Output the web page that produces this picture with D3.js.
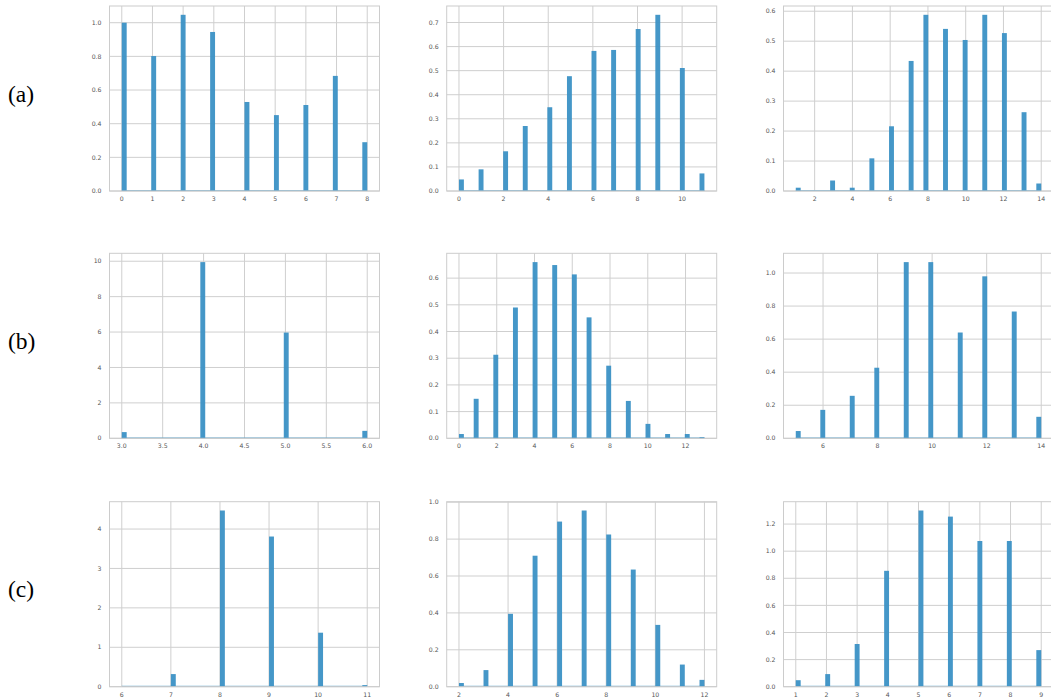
<!DOCTYPE html>
<html>
<head>
<meta charset="utf-8">
<script src="https://cdn.jsdelivr.net/npm/d3@7"></script>
<style>
  body { margin: 0; background: #fff; }
  svg { display: block; }
</style>
</head>
<body>
<svg id="chart" width="1051" height="698"></svg>
<script>
// values observed in each panel (integer outcome -> density)
const a1X = [0, 1, 2, 3, 4, 5, 6, 7, 8];
const a1Y = [1.0, 0.802, 1.047, 0.945, 0.529, 0.451, 0.511, 0.684, 0.290];
const a2X = [0, 1, 2, 3, 4, 5, 6, 7, 8, 9, 10, 11];
const a2Y = [0.048, 0.090, 0.165, 0.270, 0.348, 0.477, 0.582, 0.586, 0.673, 0.732, 0.511, 0.073];
const a3X = [1, 3, 4, 5, 6, 7, 8, 9, 10, 11, 12, 13, 14];
const a3Y = [0.011, 0.035, 0.011, 0.109, 0.216, 0.434, 0.588, 0.541, 0.504, 0.588, 0.527, 0.263, 0.025];

const b1X = [3, 4, 5, 6];
const b1Y = [0.35, 9.95, 5.97, 0.42];
const b2X = [0, 1, 2, 3, 4, 5, 6, 7, 8, 9, 10, 11, 12, 13];
const b2Y = [0.016, 0.148, 0.313, 0.490, 0.660, 0.649, 0.614, 0.453, 0.272, 0.140, 0.054, 0.016, 0.016, 0.004];
const b3X = [5, 6, 7, 8, 9, 10, 11, 12, 13, 14];
const b3Y = [0.044, 0.172, 0.257, 0.427, 1.066, 1.066, 0.640, 0.980, 0.767, 0.130];

const c1X = [6, 7, 8, 9, 10, 11];
const c1Y = [0.003, 0.32, 4.47, 3.81, 1.37, 0.04];
const c2X = [2, 3, 4, 5, 6, 7, 8, 9, 10, 11, 12];
const c2Y = [0.020, 0.090, 0.395, 0.710, 0.895, 0.955, 0.825, 0.635, 0.335, 0.120, 0.037];
const c3X = [1, 2, 3, 4, 5, 6, 7, 8, 9];
const c3Y = [0.048, 0.093, 0.315, 0.855, 1.300, 1.255, 1.075, 1.075, 0.270];

// tick steps per panel
const xSteps = [1, 2, 2, 0.5, 2, 2, 1, 2, 1];
const ySteps = [0.2, 0.1, 0.1, 2, 0.1, 0.2, 1, 0.2, 0.2];

const rowLabels = ["(a)", "(b)", "(c)"];

const panels = [
  [a1X, a1Y], [a2X, a2Y], [a3X, a3Y],
  [b1X, b1Y], [b2X, b2Y], [b3X, b3Y],
  [c1X, c1Y], [c2X, c2Y], [c3X, c3Y]
];

const nBins = 50;
const barColor = "#3b91c5";
const gridColor = "#cfcfcf";
const textColor = "#555";

const svg = d3.select("#chart");

const colLeft = [109.5, 446.7, 783.5];
const rowTop = [6, 253.3, 501.7];
const pw = 270, ph = 185;

function fmt(step) {
  return step < 1 ? d3.format(".1f") : d3.format("d");
}

function drawPanel(idx, xs, ys) {
  const col = idx % 3, row = Math.floor(idx / 3);
  const g = svg.append("g")
    .attr("transform", `translate(${colLeft[col]},${rowTop[row]})`);

  const lo = d3.min(xs), hi = d3.max(xs);
  const span = hi - lo;
  const w = span / nBins;
  const x = d3.scaleLinear().domain([lo - 0.05 * span, hi + 0.05 * span]).range([0, pw]);
  const y = d3.scaleLinear().domain([0, d3.max(ys) * 1.05]).range([ph, 0]);

  const xt = d3.range(Math.ceil(x.domain()[0] / xSteps[idx]) * xSteps[idx], x.domain()[1] + 1e-9, xSteps[idx]);
  const yt = d3.range(0, y.domain()[1] + 1e-9, ySteps[idx]);

  // grid
  g.append("g").selectAll("line").data(xt).join("line")
    .attr("x1", d => x(d)).attr("x2", d => x(d))
    .attr("y1", 0).attr("y2", ph)
    .attr("stroke", gridColor).attr("stroke-width", 1);
  g.append("g").selectAll("line").data(yt).join("line")
    .attr("x1", 0).attr("x2", pw)
    .attr("y1", d => y(d)).attr("y2", d => y(d))
    .attr("stroke", gridColor).attr("stroke-width", 1);

  // zero-height bins show as a faint baseline
  g.append("line")
    .attr("x1", x(lo)).attr("x2", x(hi))
    .attr("y1", y(0) - 0.5).attr("y2", y(0) - 0.5)
    .attr("stroke", barColor).attr("stroke-opacity", 0.6).attr("stroke-width", 1);

  // bars: each value falls into one of 50 equal bins between min and max
  const bars = xs.map((v, i) => {
    const b = Math.min(Math.floor((v - lo) / w + 1e-9), nBins - 1);
    return { x0: lo + b * w, x1: lo + (b + 1) * w, h: ys[i] };
  });
  g.append("g").selectAll("rect").data(bars).join("rect")
    .attr("x", d => x(d.x0))
    .attr("width", d => x(d.x1) - x(d.x0))
    .attr("y", d => y(d.h))
    .attr("height", d => y(0) - y(d.h))
    .attr("fill", barColor)
    .attr("fill-opacity", 0.95);

  // frame
  g.append("rect")
    .attr("x", 0).attr("y", 0).attr("width", pw).attr("height", ph)
    .attr("fill", "none").attr("stroke", "#cccccc").attr("stroke-width", 1);

  // tick labels
  const fx = fmt(xSteps[idx]), fy = fmt(ySteps[idx]);
  g.append("g").selectAll("text").data(xt).join("text")
    .attr("x", d => x(d)).attr("y", ph + 10)
    .attr("text-anchor", "middle")
    .attr("font-family", "DejaVu Sans").attr("font-size", 6.2)
    .attr("fill", textColor)
    .text(d => fx(d));
  g.append("g").selectAll("text").data(yt).join("text")
    .attr("x", -8).attr("y", d => y(d))
    .attr("dy", "0.35em")
    .attr("text-anchor", "end")
    .attr("font-family", "DejaVu Sans").attr("font-size", 6.2)
    .attr("fill", textColor)
    .text(d => fy(d));
}

panels.forEach((p, i) => drawPanel(i, p[0], p[1]));

// row labels
rowLabels.forEach((t, r) => {
  svg.append("text")
    .attr("x", 8)
    .attr("y", rowTop[r] + ph / 2 - 5)
    .attr("dy", "0.35em")
    .attr("font-family", "Liberation Serif, Times New Roman, serif")
    .attr("font-size", 23.5)
    .attr("fill", "#000")
    .text(t);
});
</script>
</body>
</html>
